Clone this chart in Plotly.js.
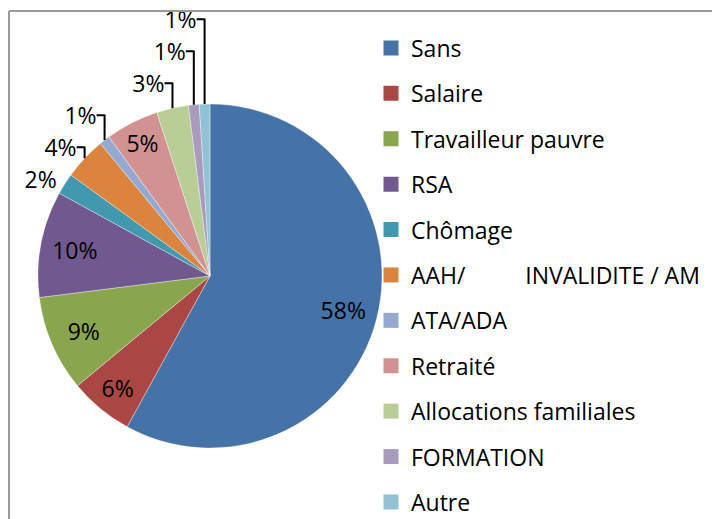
<!DOCTYPE html>
<html>
<head>
<meta charset="utf-8">
<script src="https://cdn.plot.ly/plotly-3.0.1.min.js"></script>
<style>
html,body{margin:0;padding:0;background:#fff;overflow:hidden;}
#chart{width:712px;height:540px;}
</style>
</head>
<body>
<div id="chart"></div>
<script>
var categories = ["Sans", "Salaire", "Travailleur pauvre", "RSA", "Chômage",
  "AAH/\u00A0\u00A0\u00A0\u00A0\u00A0\u00A0\u00A0\u00A0\u00A0 INVALIDITE / AM",
  "ATA/ADA", "Retraité", "Allocations familiales", "FORMATION", "Autre"];
var values = [58, 6, 9, 10, 2, 4, 1, 5, 3, 1, 1];
var colors = ["#4572A7", "#AA4643", "#89A54E", "#71588F", "#4198AF", "#DB843D",
  "#93A9CF", "#D19392", "#B9CD96", "#A99BBD", "#92C3D4"];
var labelPositions = ["inside", "inside", "inside", "inside", "outside", "outside",
  "outside", "inside", "outside", "outside", "outside"];

// figure is drawn slightly taller than the 519px window so the legend keeps its spacing
var W = 712, H = 540;
var fontFamily = "Open Sans, sans-serif";
var pieDomain = {x: [38 / W, 382 / W], y: [1 - 448 / H, 1 - 104 / H]};
var labelFont = {family: fontFamily, size: 23, color: "#000"};

var traces = [
  {
    type: "pie",
    labels: categories,
    values: values,
    sort: false,
    direction: "clockwise",
    rotation: 0,
    marker: {colors: colors, line: {color: "rgba(255,255,255,0.6)", width: 0.6}},
    textinfo: "none",
    showlegend: false,
    hoverinfo: "label+percent",
    domain: pieDomain
  },
  {
    type: "pie",
    labels: categories,
    values: values,
    sort: false,
    direction: "clockwise",
    rotation: 0,
    hole: 0.6,
    marker: {colors: categories.map(function () { return "rgba(0,0,0,0)"; }),
             line: {width: 0}},
    textinfo: "percent",
    textposition: labelPositions,
    insidetextorientation: "horizontal",
    textfont: labelFont,
    insidetextfont: labelFont,
    outsidetextfont: labelFont,
    showlegend: false,
    hoverinfo: "skip",
    domain: pieDomain
  }
];

categories.forEach(function (c, i) {
  traces.push({
    type: "scatter",
    mode: "markers",
    x: [null], y: [null],
    name: c,
    legendgroup: "g" + i,
    marker: {symbol: "square", size: 15, color: colors[i]},
    showlegend: true,
    hoverinfo: "skip"
  });
});

var layout = {
  width: W, height: H,
  margin: {l: 0, r: 0, t: 0, b: 0},
  paper_bgcolor: "#fff",
  plot_bgcolor: "rgba(0,0,0,0)",
  font: {family: fontFamily, size: 23, color: "#000"},
  uniformtext: {mode: "show", minsize: 23},
  xaxis: {visible: false, range: [0, 1], fixedrange: true},
  yaxis: {visible: false, range: [0, 1], fixedrange: true},
  showlegend: true,
  legend: {
    x: 371 / W, xanchor: "left",
    y: 1 - 26.5 / H, yanchor: "top",
    traceorder: "grouped",
    tracegroupgap: 12.5,
    font: {family: fontFamily, size: 23, color: "#000"},
    bgcolor: "rgba(0,0,0,0)",
    borderwidth: 0
  },
  shapes: [
    {type: "line", xref: "paper", yref: "paper", x0: 9 / W, x1: 1.01, y0: 1 - 11 / H, y1: 1 - 11 / H,
     line: {color: "#9a9a9a", width: 2}},
    {type: "line", xref: "paper", yref: "paper", x0: 9 / W, x1: 9 / W, y0: 1 - 11 / H, y1: -0.01,
     line: {color: "#9a9a9a", width: 2}}
  ]
};

Plotly.newPlot("chart", traces, layout, {displayModeBar: false, staticPlot: true});
</script>
</body>
</html>
